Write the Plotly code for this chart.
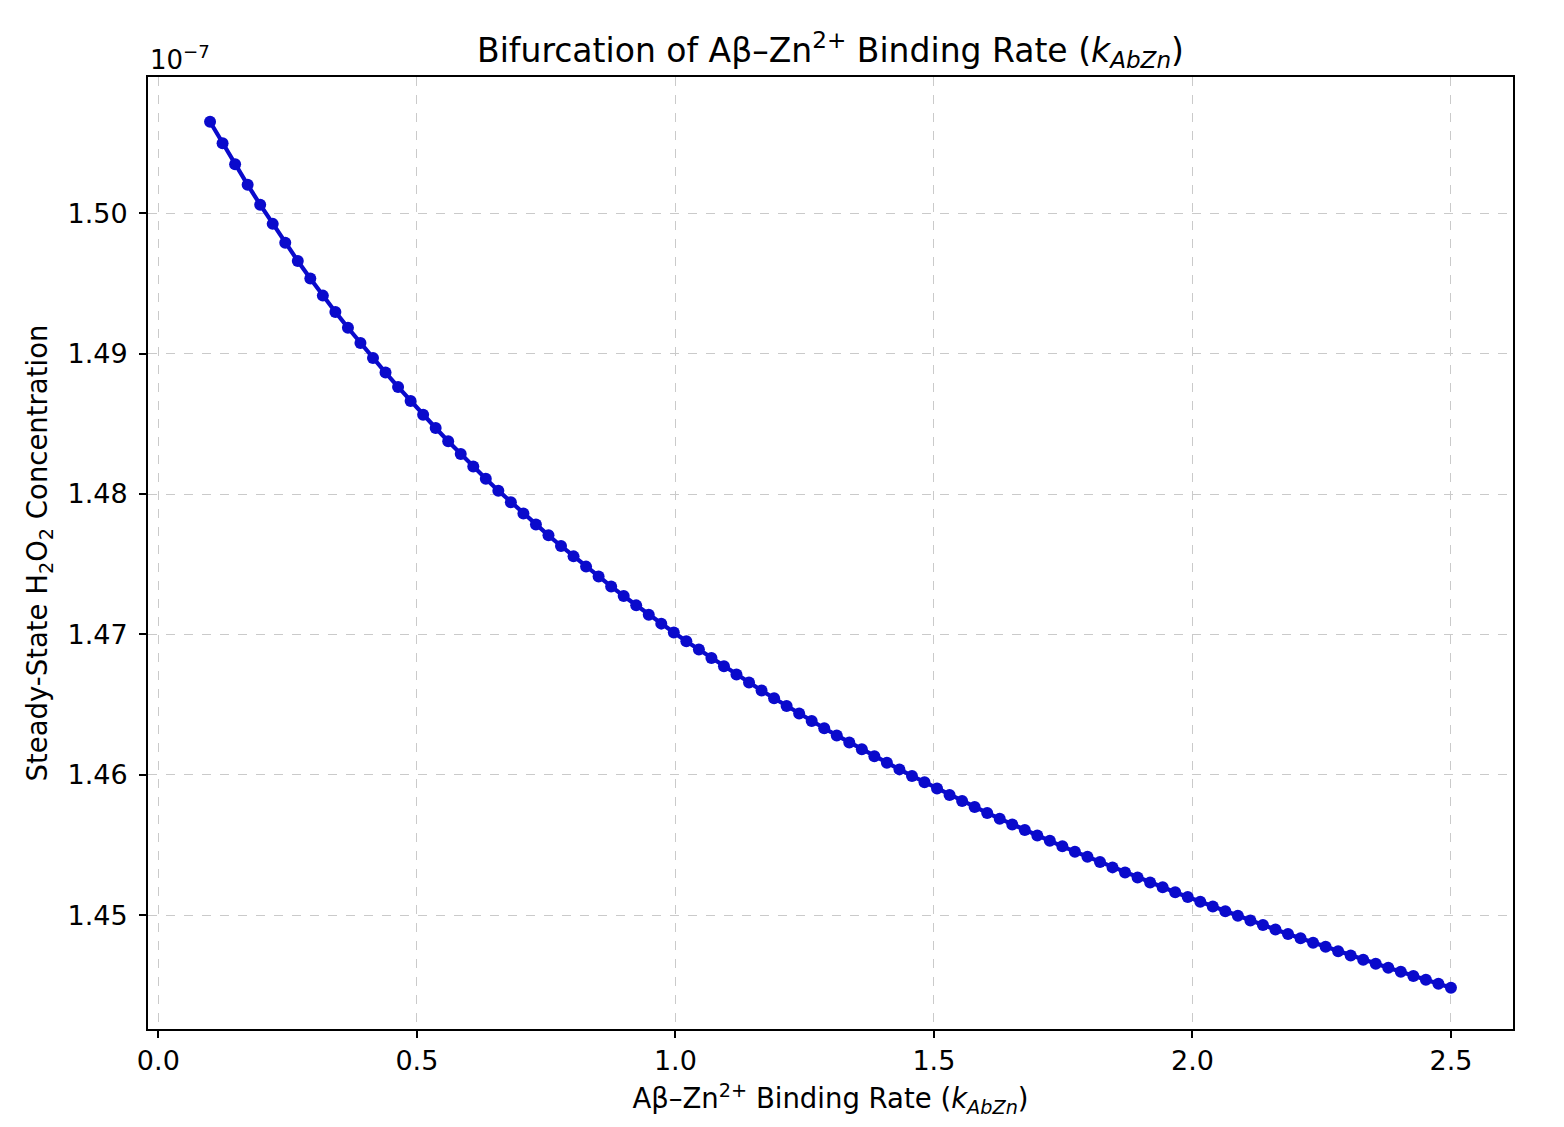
import plotly.graph_objects as go

# Aβ-Zn2+ binding rate values (k_AbZn), 100 samples from 0.1 to 2.5
k_abzn = [
    0.1, 0.12424, 0.14848, 0.17273, 0.19697, 0.22121, 0.24545, 0.2697, 0.29394, 0.31818,
    0.34242, 0.36667, 0.39091, 0.41515, 0.43939, 0.46364, 0.48788, 0.51212, 0.53636, 0.56061,
    0.58485, 0.60909, 0.63333, 0.65758, 0.68182, 0.70606, 0.7303, 0.75455, 0.77879, 0.80303,
    0.82727, 0.85152, 0.87576, 0.9, 0.92424, 0.94848, 0.97273, 0.99697, 1.02121, 1.04545,
    1.0697, 1.09394, 1.11818, 1.14242, 1.16667, 1.19091, 1.21515, 1.23939, 1.26364, 1.28788,
    1.31212, 1.33636, 1.36061, 1.38485, 1.40909, 1.43333, 1.45758, 1.48182, 1.50606, 1.5303,
    1.55455, 1.57879, 1.60303, 1.62727, 1.65152, 1.67576, 1.7, 1.72424, 1.74848, 1.77273,
    1.79697, 1.82121, 1.84545, 1.8697, 1.89394, 1.91818, 1.94242, 1.96667, 1.99091, 2.01515,
    2.03939, 2.06364, 2.08788, 2.11212, 2.13636, 2.16061, 2.18485, 2.20909, 2.23333, 2.25758,
    2.28182, 2.30606, 2.3303, 2.35455, 2.37879, 2.40303, 2.42727, 2.45152, 2.47576, 2.5,
]

# steady-state H2O2 concentration, in units of 1e-7
h2o2_ss = [
    1.50651, 1.50498, 1.50348, 1.50202, 1.50061, 1.49924, 1.49790, 1.49660, 1.49535, 1.49413,
    1.49297, 1.49184, 1.49075, 1.48969, 1.48865, 1.48763, 1.48663, 1.48565, 1.48470, 1.48376,
    1.48285, 1.48196, 1.48109, 1.48024, 1.47942, 1.47861, 1.47783, 1.47706, 1.47630, 1.47556,
    1.47483, 1.47412, 1.47342, 1.47274, 1.47207, 1.47141, 1.47077, 1.47014, 1.46952, 1.46892,
    1.46832, 1.46773, 1.46714, 1.46657, 1.46601, 1.46545, 1.46490, 1.46437, 1.46384, 1.46332,
    1.46281, 1.46231, 1.46182, 1.46133, 1.46086, 1.46039, 1.45992, 1.45947, 1.45902, 1.45857,
    1.45814, 1.45771, 1.45729, 1.45688, 1.45647, 1.45607, 1.45568, 1.45530, 1.45491, 1.45453,
    1.45416, 1.45379, 1.45341, 1.45305, 1.45269, 1.45234, 1.45199, 1.45164, 1.45130, 1.45096,
    1.45062, 1.45029, 1.44996, 1.44963, 1.44931, 1.44899, 1.44867, 1.44836, 1.44805, 1.44775,
    1.44744, 1.44714, 1.44684, 1.44655, 1.44626, 1.44597, 1.44568, 1.44540, 1.44512, 1.44484,
]

x_ticks = [0.0, 0.5, 1.0, 1.5, 2.0, 2.5]
y_ticks = [1.45, 1.46, 1.47, 1.48, 1.49, 1.50]

FONT = "DejaVu Sans"
W, H = 1548, 1111  # page body keeps an 8px margin

fig = go.Figure()
fig.add_trace(go.Scatter(
    x=k_abzn,
    y=h2o2_ss,
    mode="lines+markers",
    line=dict(color="#0a0acc", width=4.2),
    marker=dict(color="#0a0acc", size=12),
    showlegend=False,
))

axis_style = dict(
    showline=True,
    linecolor="black",
    linewidth=2,
    mirror=True,
    ticks="outside",
    ticklen=7,
    tickwidth=2,
    tickcolor="black",
    showgrid=True,
    gridcolor="#cacaca",
    griddash="dash",
    gridwidth=1,
    zeroline=False,
    automargin=False,
    tickfont=dict(size=27, color="black", family=FONT),
)

fig.update_xaxes(
    range=[-0.02, 2.62],
    tickvals=x_ticks,
    ticktext=[f"{v:.1f}" for v in x_ticks],
    ticklabelstandoff=0,
    title=dict(text="Aβ–Zn<sup>2+</sup> Binding Rate (<i>k<sub>AbZn</sub></i>)",
               font=dict(size=27.5, color="black", family=FONT), standoff=21),
    **axis_style,
)
fig.update_yaxes(
    range=[1.4419, 1.5097],
    tickvals=y_ticks,
    ticktext=[f"{v:.2f}" for v in y_ticks],
    ticklabelstandoff=6,
    title=dict(text="Steady-State H<sub>2</sub>O<sub>2</sub> Concentration",
               font=dict(size=27.5, color="black", family=FONT), standoff=12),
    **axis_style,
)

fig.add_annotation(
    text="10<sup>−7</sup>",
    xref="paper", yref="paper",
    x=0, y=1.0, xanchor="left", yanchor="bottom",
    showarrow=False,
    font=dict(size=26, color="black", family=FONT),
)

fig.update_layout(
    width=W,
    height=H,
    margin=dict(l=140, r=43, t=69, b=90, autoexpand=False),
    plot_bgcolor="white",
    paper_bgcolor="white",
    font=dict(family=FONT, color="black"),
    title=dict(
        text="Bifurcation of Aβ–Zn<sup>2+</sup> Binding Rate (<i>k<sub>AbZn</sub></i>)",
        x=(140 + (W - 140 - 43) / 2) / W,
        xanchor="center",
        y=1 - 42 / H,
        yanchor="middle",
        font=dict(size=33, color="black", family=FONT),
    ),
)

fig.write_html("out.html")
